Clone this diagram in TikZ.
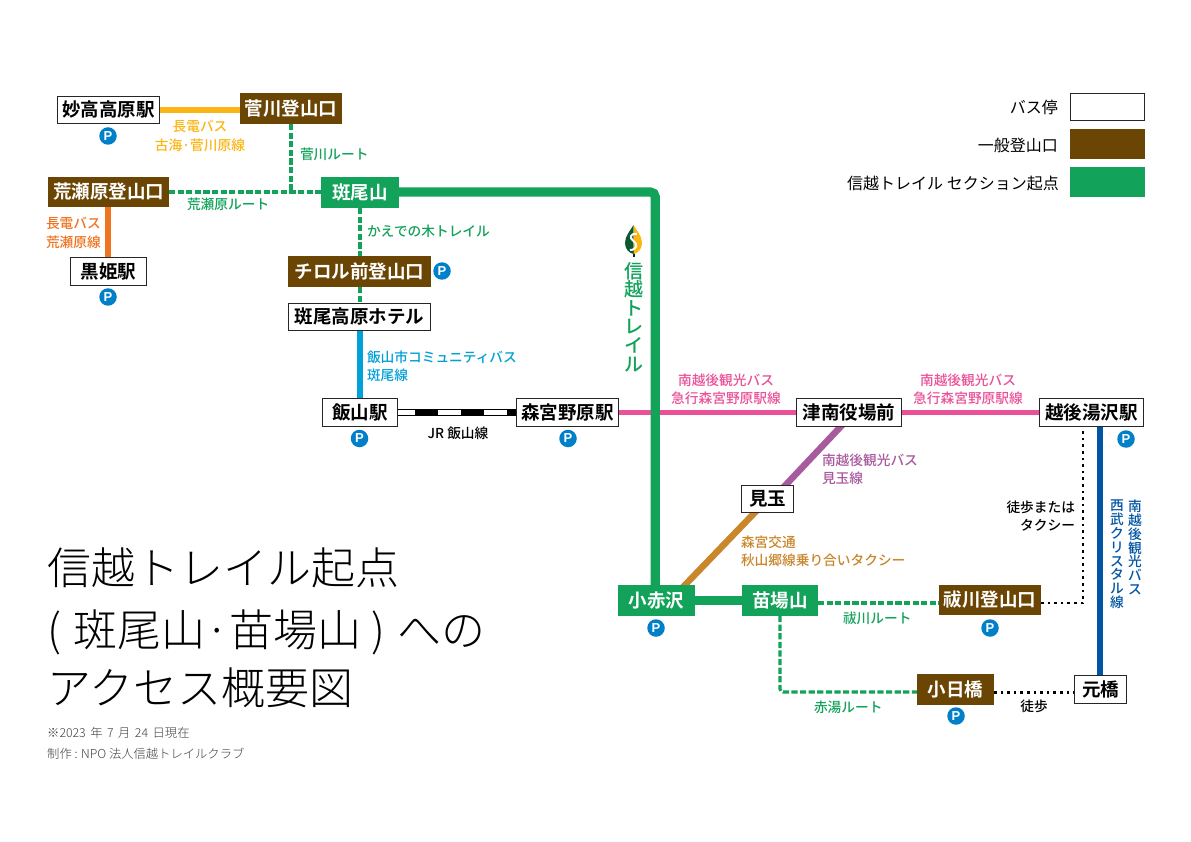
\documentclass[tikz,border=0pt]{standalone}
\usepackage{fontspec}
\setmainfont{Noto Sans CJK JP}
\newfontfamily\fLight{Noto Sans CJK JP Light}
\newfontfamily\fMed{Noto Sans CJK JP Medium}
\newfontfamily\fBold{Noto Sans CJK JP Bold}
\newfontfamily\fP{Liberation Sans Bold}
\usetikzlibrary{calc}
\pgfdeclarelayer{paper}
\pgfdeclarelayer{back}
\pgfsetlayers{paper,back,main}
\definecolor{tgreen}{HTML}{12A25A}
\definecolor{tbrown}{HTML}{6B4504}
\definecolor{tyellow}{HTML}{FBB614}
\definecolor{torange}{HTML}{F0731F}
\definecolor{tcyan}{HTML}{00A0D8}
\definecolor{tpink}{HTML}{EA5198}
\definecolor{tpurple}{HTML}{A85A9E}
\definecolor{tochre}{HTML}{C9862B}
\definecolor{tblue}{HTML}{0055A5}
\definecolor{tp}{HTML}{0080C8}
\tikzset{
  boxbase/.style={inner sep=0pt,outer sep=0pt,text height=16.1pt,text depth=2.2pt,font=\fontsize{18.5}{18.5}\fBold},
  busstop/.style={boxbase,draw=black!85,line width=1.4pt,fill=white,text=black},
  trailhead/.style={boxbase,fill=tbrown,text=white},
  sectionpt/.style={boxbase,fill=tgreen,text=white},
  picon/.style={circle,fill=tp,text=white,inner sep=0pt,minimum size=17.5pt,font=\fontsize{13}{13}\fP},
  lab/.style={inner sep=0pt,outer sep=0pt,font=\fontsize{13.7}{18.2}\fMed},
  legendtxt/.style={inner sep=0pt,anchor=east,font=\fontsize{16}{16}\selectfont,text height=14pt,text depth=2pt},
  busline/.style={line width=#1},
  trailline/.style={line width=3.2pt,tgreen,dash pattern=on 6.2pt off 2.4pt},
  walkline/.style={line width=2.4pt,black,dash pattern=on 2.6pt off 4pt},
  titletxt/.style={inner sep=0pt,anchor=west,font=\fontsize{44}{44}\fLight,text height=38.7pt,text depth=5.3pt},
  notetxt/.style={inner sep=0pt,anchor=west,text=black!75,font=\fontsize{12.3}{12.3}\fLight,text height=10.8pt,text depth=1.5pt},
}
\newcommand{\mybox}[7]{%
  \pgfmathsetmacro{\bcx}{(#3+#5)/2}\pgfmathsetmacro{\bcy}{(#4+#6)/2}%
  \pgfmathsetmacro{\bw}{#5-#3}\pgfmathsetmacro{\bh}{#6-#4}%
  \node[#2,minimum width=\bw pt,minimum height=\bh pt] (#1) at (\bcx,\bcy) {#7};}
\begin{document}
\begin{tikzpicture}[x=1pt,y=-1pt]
\useasboundingbox (0,0) rectangle (1191,842);
\begin{pgfonlayer}{paper}
\fill[white] (0,0) rectangle (1191,842);
\end{pgfonlayer}
% stations
\mybox{myoko}{busstop}{57.7}{96.7}{159.3}{123.3}{妙高高原駅}
\mybox{sugawa}{trailhead}{240}{93}{342}{124}{菅川登山口}
\mybox{arase}{trailhead}{48}{177}{169}{207}{荒瀬原登山口}
\mybox{madarao}{sectionpt}{321}{177}{399}{208}{斑尾山}
\mybox{kurohime}{busstop}{70.7}{257.7}{146.3}{285.3}{黒姫駅}
\mybox{tirol}{trailhead}{288}{256}{431}{287}{チロル前登山口}
\mybox{hotel}{busstop}{288.7}{303.7}{430.3}{330.3}{斑尾高原ホテル}
\mybox{iiyama}{busstop}{322.7}{398.7}{397.3}{426.3}{飯山駅}
\mybox{morimiya}{busstop}{516.7}{398.7}{618.3}{426.3}{森宮野原駅}
\mybox{tsunan}{busstop}{796.7}{398.7}{901.3}{426.3}{津南役場前}
\mybox{echigo}{busstop}{1039.7}{398.7}{1143.3}{426.3}{越後湯沢駅}
\mybox{mitama}{busstop}{741.7}{485.7}{793.3}{512.3}{見玉}
\mybox{koakasawa}{sectionpt}{618}{585}{695}{616}{小赤沢}
\mybox{naeba}{sectionpt}{742}{585}{818}{616}{苗場山}
\mybox{haraigawa}{trailhead}{939}{585}{1041}{615}{祓川登山口}
\mybox{kohi}{trailhead}{917}{674}{994}{705}{小日橋}
\mybox{motohashi}{busstop}{1074.7}{675.7}{1126.3}{703.3}{元橋}
% legend
\mybox{legA}{busstop}{1070.7}{93.7}{1144.3}{120.3}{}
\mybox{legB}{trailhead}{1070}{129}{1145}{159}{}
\mybox{legC}{sectionpt}{1070}{167}{1145}{197}{}
\node[legendtxt] (legAt) at (1058,108) {バス停};
\node[legendtxt] (legBt) at (1058,146) {一般登山口};
\node[legendtxt] (legCt) at (1059,184) {信越トレイル セクション起点};
% free-end coordinates of connectors
\coordinate (jsug) at (291,192);
\coordinate (tr1) at (655.3,192);
\coordinate (tr2) at (655.3,585);
\coordinate (nb1) at (780,692);
\coordinate (wk1) at (1083,603);
% connectors
\begin{pgfonlayer}{back}
\draw[busline=6.5pt,tyellow] (myoko.east |- 0,110) -- (sugawa.west |- 0,110);
\draw[busline=6pt,torange] (arase.south -| 108,0) -- (kurohime.north -| 108,0);
\draw[trailline] (arase.east |- jsug) -- (madarao.west |- jsug);
\draw[trailline] (sugawa.south -| jsug) -- (jsug);
\draw[trailline] (madarao.south -| 360,0) -- (tirol.north -| 360,0);
\draw[trailline] (tirol.south -| 360,0) -- (hotel.north -| 360,0);
\draw[busline=6pt,tcyan] (hotel.south -| 360,0) -- (iiyama.north -| 360,0);
\draw[line width=7.5pt,black] (iiyama.east) -- (morimiya.west);
\draw[line width=4.5pt,white] (iiyama.east) -- (morimiya.west);
\draw[line width=7.5pt,black,dash pattern=on 22.6pt off 23.4pt,dash phase=-17.7pt] (iiyama.east) -- (morimiya.west);
\draw[busline=5.5pt,tpink] (morimiya.east) -- (tsunan.west);
\draw[busline=5.5pt,tpink] (tsunan.east) -- (echigo.west);
\draw[line width=9.2pt,tgreen,rounded corners=5pt] (madarao.east |- tr1) -- (tr1) -- (tr2);
\draw[busline=6.5pt,tpurple,shorten <=-4pt,shorten >=-4pt] (tsunan.south -| 841,0) -- (mitama.north -| 785,0);
\draw[busline=6.5pt,tochre,shorten <=-4pt,shorten >=-4pt] (mitama.south -| 755,0) -- (koakasawa.north -| 685,0);
\draw[line width=9.2pt,tgreen] (koakasawa.east) -- (naeba.west);
\draw[trailline] (naeba.east |- 0,603) -- (haraigawa.west |- 0,603);
\draw[trailline,rounded corners=3pt] (naeba.south -| nb1) -- (nb1) -- (kohi.west |- nb1);
\draw[walkline] (haraigawa.east |- wk1) -- (wk1) -- (echigo.south -| wk1);
\draw[walkline] (kohi.east |- 0,692.5) -- (motohashi.west |- 0,692.5);
\draw[busline=5.5pt,tblue] (echigo.south -| 1100,0) -- (motohashi.north -| 1100,0);
\end{pgfonlayer}
% P icons
\node[picon] (p1) at (108,136) {P};
\node[picon] (p2) at (108,297) {P};
\node[picon] (p3) at (442,271) {P};
\node[picon] (p4) at (359.5,438.5) {P};
\node[picon] (p5) at (568,438.5) {P};
\node[picon] (p6) at (656,628) {P};
\node[picon] (p7) at (990,628) {P};
\node[picon] (p8) at (956,716) {P};
\node[picon] (p9) at (1126,439) {P};
% labels
\node[lab,text=tyellow,align=center] (l1) at (200,136) {長電バス\\古海·菅川原線};
\node[lab,text=tgreen,anchor=west] (l2) at (300,154) {菅川ルート};
\node[lab,text=tgreen,anchor=west] (l3) at (187,204) {荒瀬原ルート};
\node[lab,text=torange,align=left,anchor=west] (l4) at (46,233) {長電バス\\荒瀬原線};
\node[lab,text=tgreen,anchor=west] (l5) at (367,231) {かえでの木トレイル};
\node[lab,text=tcyan,align=left,anchor=west] (l6) at (367,366) {飯山市コミュニティバス\\斑尾線};
\node[lab,text=black] (l7) at (458,433) {JR 飯山線};
\node[lab,text=tpink,align=center] (l8) at (726,389) {南越後観光バス\\急行森宮野原駅線};
\node[lab,text=tpink,align=center] (l9) at (968,389) {南越後観光バス\\急行森宮野原駅線};
\node[lab,text=tpurple,align=left,anchor=west] (l10) at (822,469.5) {南越後観光バス\\見玉線};
\node[lab,text=tochre,align=left,anchor=west] (l11) at (741,551.5) {森宮交通\\秋山郷線乗り合いタクシー};
\node[lab,text=tgreen,anchor=west] (l12) at (843,618) {祓川ルート};
\node[lab,text=tgreen,anchor=west] (l13) at (814,707) {赤湯ルート};
\node[lab,text=black] (l14) at (1034,706) {徒歩};
\node[lab,text=black,align=right,anchor=east] (l15) at (1075,516) {徒歩または\\タクシー};
\node[lab,text=tblue,align=center,anchor=north,font=\fontsize{13.7}{13.85}\fMed] (l16) at (1135,500) {南\\越\\後\\観\\光\\バ\\ス};
\node[lab,text=tblue,align=center,anchor=north,font=\fontsize{13.7}{13.85}\fMed] (l17) at (1117,500) {西\\武\\ク\\リ\\ス\\タ\\ル\\線};
\node[inner sep=0pt,text=tgreen,align=center,anchor=north,font=\fontsize{19}{18.6}\fMed] (l18) at (633.5,262) {信\\越\\ト\\レ\\イ\\ル};
% logo
\fill[black!70!tgreen] (632.5,250) rectangle (634.5,257);
\fill[black!45!tgreen] (633.5,225) .. controls (630,231) and (625,236) .. (625,243) .. controls (625,249) and (629,253) .. (633.5,254) -- cycle;
\fill[tyellow] (633.5,225) .. controls (637,231) and (642,236) .. (642,243) .. controls (642,249) and (638,253) .. (633.5,254) -- cycle;
\draw[white,line width=2pt] (637,234) .. controls (630,233) and (629,238) .. (633.5,241) .. controls (638,244) and (637,250) .. (630,250);
% title
\node[titletxt] (t1) at (47,568) {信越トレイル起点};
\node[titletxt] (t2) at (47,630) {(\hspace{3pt} 斑尾山·苗場山 )\hspace{3pt} への};
\node[titletxt] (t3) at (47,688) {アクセス概要図};
\node[notetxt] (n1) at (47,733) {\spaceskip=4.5pt ※2023 年 7 月 24 日現在};
\node[notetxt] (n2) at (47,754) {制作 : NPO 法人信越トレイルクラブ};
\end{tikzpicture}
\end{document}
